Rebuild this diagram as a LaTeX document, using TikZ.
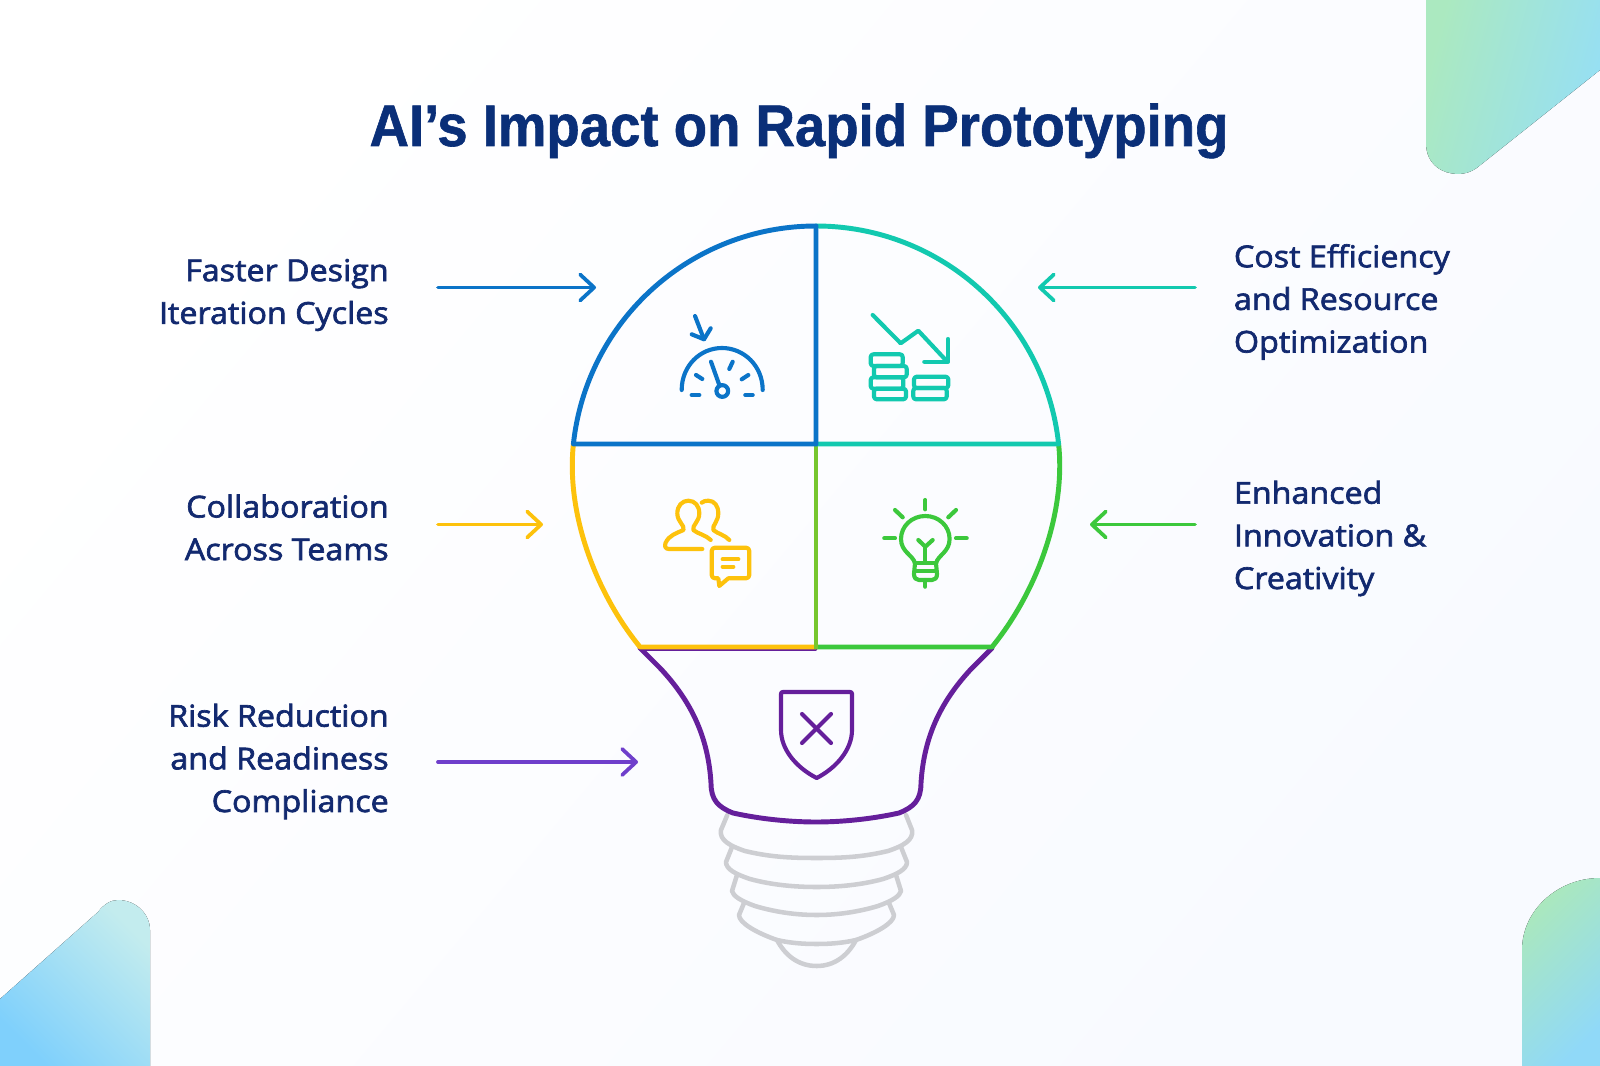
\documentclass[tikz,border=0pt]{standalone}
\usepackage{fontspec}
\usetikzlibrary{arrows.meta}
\newfontfamily\titlefont[FakeStretch=0.93,FakeBold=1]{Liberation Sans}
\newfontfamily\labfont[FakeStretch=1.07,FakeBold=2.2]{Open Sans}
\definecolor{navy}{HTML}{0A2F78}
\definecolor{labnavy}{HTML}{12296F}
\definecolor{cblue}{HTML}{0B74C8}
\definecolor{cteal}{HTML}{12C9AF}
\definecolor{cyellow}{HTML}{FDC20C}
\definecolor{cgreen}{HTML}{3CC83C}
\definecolor{cpurple}{HTML}{651F9B}
\definecolor{carrowp}{HTML}{6F3FCB}
\definecolor{cgray}{HTML}{CDCED2}
\definecolor{bgtint}{HTML}{F8FAFF}
\definecolor{ctra}{HTML}{ABE9C0}
\definecolor{ctrb}{HTML}{96DFF5}
\definecolor{cbla}{HTML}{7FD0FC}
\definecolor{cblb}{HTML}{C3ECEE}
\definecolor{cbra}{HTML}{ABE8BC}
\definecolor{cbrb}{HTML}{90D9F8}
\tikzset{
  bulbline/.style={line width=3.7pt,line cap=round,line join=round},
  iconline/.style={line width=3.1pt,line cap=round,line join=round},
  threadline/.style={line width=3.4pt,line cap=round,line join=round,draw=cgray},
  pointer/.style={line width=2.8pt,line cap=round,-{Straight Barb[length=10.5pt,width=19.5pt,line width=2.8pt,round]}},
  leftlab/.style={font=\labfont\fontsize{22.6}{32}\selectfont,text=labnavy,align=right,anchor=east,inner sep=0pt},
  rightlab/.style={font=\labfont\fontsize{22.6}{32}\selectfont,text=labnavy,align=left,anchor=west,inner sep=0pt},
}
\begin{document}
\begin{tikzpicture}[x=0.75pt,y=-0.75pt]
\useasboundingbox (0,0) rectangle (1600,1066);
\shade[left color=white,right color=bgtint,shading angle=50] (0,0) rectangle (1600,1066);
% corner shapes
\fill[left color=ctra,right color=ctrb,shading angle=75]
  (1426,0) -- (1426,143) .. controls (1426,165) and (1443,174) .. (1458,174)
  .. controls (1465,174) and (1471,172) .. (1476.7,168) -- (1600,70) -- (1600,0) -- cycle;
\fill[left color=cbla,right color=cblb,shading angle=135]
  (0,1066) -- (0,999) -- (98,912) .. controls (104,904) and (111,900) .. (118,900)
  .. controls (136,900) and (150,914) .. (150,930) -- (150,1066) -- cycle;
\fill[left color=cbra,right color=cbrb,shading angle=45]
  (1600,1066) -- (1522,1066) -- (1522,950) .. controls (1522,910) and (1558,878) .. (1600,878) -- cycle;
% title
\node[inner sep=0pt,anchor=base,text=navy,font=\titlefont\bfseries\fontsize{44}{50}\selectfont] (title) at (799,146) {AI’s Impact on Rapid Prototyping};
% screw base
\draw[threadline] (727.3,815) -- (721,830) .. controls (719,840) and (730,846) .. (745,851) .. controls (770,857) and (790,858) .. (816.7,858) .. controls (843,858) and (863,857) .. (888,851) .. controls (903,846) and (914,840) .. (912,830) -- (906,815);
\draw[threadline] (732,847) -- (726,862) .. controls (726,869) and (735,874) .. (750,879) .. controls (772,885) and (795,887) .. (816.7,887) .. controls (838,887) and (861,885) .. (883,879) .. controls (898,874) and (907,869) .. (907,862) -- (901,847);
\draw[threadline] (737,875) -- (732,891) .. controls (733,896) and (741,901) .. (755,906) .. controls (775,912) and (796,915) .. (816.7,915) .. controls (837,915) and (858,912) .. (878,906) .. controls (892,901) and (900,896) .. (901,891) -- (896,875);
\draw[threadline] (744,903) -- (739,915) .. controls (739,923) and (757,933) .. (777,940) .. controls (790,943) and (803,944) .. (816.7,944) .. controls (830,944) and (843,943) .. (856,940) .. controls (876,933) and (894,923) .. (894,915) -- (889,903);
\draw[threadline] (777,940) .. controls (785,955) and (798,966) .. (816.7,966) .. controls (835,966) and (848,955) .. (856,940);
% purple base
\draw[bulbline,draw=cpurple,line width=2.2pt] (640,649.5) -- (816,649.5);
\draw[bulbline,draw=cpurple] (640,648) -- (660,668) .. controls (690,700) and (708,735) .. (711,783)
  .. controls (711,800) and (718,807) .. (733,813) .. controls (760,819) and (790,822) .. (816,822)
  .. controls (842,822) and (872,819) .. (899,813) .. controls (914,807) and (921,800) .. (921,783)
  .. controls (924,735) and (942,700) .. (972,668) -- (992,648);
% lower quadrants
\draw[bulbline,draw=cyellow,line cap=butt] (573.4,444) .. controls (566,514) and (596,593) .. (640,647) -- (816,647);
\draw[bulbline,draw=cgreen,line cap=butt] (1058.6,444) .. controls (1066,514) and (1036,593) .. (992,647) -- (816,647);
\draw[bulbline,draw=cgreen!70!cyellow,line cap=butt] (816,444) -- (816,648.5);
% upper quadrants
\draw[bulbline,draw=cteal] (816,226) .. controls (940.7,226) and (1045.3,320) .. (1058.6,444) -- (816,444);
\draw[bulbline,draw=cblue] (816,226) .. controls (691.3,226) and (586.7,320) .. (573.4,444) -- (816,444) -- cycle;
% speedometer
\begin{scope}[iconline,draw=cblue]
\draw (681.7,390) .. controls (681.7,366) and (700,348) .. (722,348) .. controls (744,348) and (762.7,366) .. (762.7,390);
\draw (695,316) -- (704,339.3);
\draw (691.7,334.3) -- (704,339.3) -- (710.7,328.3);
\draw (711,361.7) -- (719.3,385);
\draw (722.3,391) circle[radius=4.4pt];
\draw (691.7,395) -- (699.3,395);
\draw (696,375) -- (702.3,379);
\draw (729.3,369) -- (732.7,361.7);
\draw (741.7,379.3) -- (748.3,375);
\draw (745.3,395) -- (752.7,395);
\end{scope}
% coins and falling chart
\begin{scope}[iconline,draw=cteal]
\draw (872.7,315) -- (900.7,343.3) -- (918.3,330.7) -- (947.3,361.7);
\draw (948,339) -- (948,361.7) -- (924.3,361.7);
\begin{scope}[rounded corners=2pt]
\draw (870.7,354.3) rectangle (902.7,366);
\draw (874,366) rectangle (906.7,377.3);
\draw (870.7,377.3) rectangle (903.3,388.7);
\draw (874,388.7) rectangle (906,399.3);
\draw (914,376.7) rectangle (948.3,388);
\draw (913.3,388) rectangle (946.7,399.3);
\end{scope}
\end{scope}
% people and chat
\begin{scope}[iconline,draw=cyellow]
\draw (702.3,549) -- (669,549) .. controls (665,549) and (664.5,546) .. (665.5,543) .. controls (669,535) and (677,533) .. (683.5,530)
  .. controls (685,525) and (677.3,522) .. (677.3,513.3) .. controls (677.3,506) and (682,500.7) .. (688.3,500.7)
  .. controls (695,500.7) and (699.3,506) .. (699.3,513.3) .. controls (699.3,522) and (692,525) .. (693.3,530) .. controls (698,534) and (706,535) .. (710.7,540);
\draw (701.7,502.7) .. controls (703,501.3) and (705.5,500.7) .. (708.3,500.7) .. controls (714.5,500.7) and (718.3,506) .. (718.3,513.3)
  .. controls (718.3,522) and (712,525) .. (713.3,530) .. controls (718,534) and (725,535) .. (729.3,540);
\draw (728.3,578.3) -- (719.3,586) -- (718.3,578.3) -- (715,578.3) .. controls (713,578.3) and (711.7,577) .. (711.7,575) -- (711.7,551) .. controls (711.7,549) and (713,547.7) .. (715,547.7) -- (746,547.7) .. controls (748,547.7) and (749.3,549) .. (749.3,551) -- (749.3,575) .. controls (749.3,577) and (748,578.3) .. (746,578.3) -- cycle;
\draw (722.7,559.3) -- (738.3,559.3);
\draw (722.7,566.7) -- (733.3,566.7);
\end{scope}
% idea bulb
\begin{scope}[iconline,draw=cgreen]
\draw (925.3,500) -- (925.3,509.3);
\draw (895,510) -- (902.7,517.3);
\draw (956,510) -- (948.3,517.3);
\draw (884.3,538.3) -- (895,538.3);
\draw (956,538.3) -- (966.7,538.3);
\draw (915,563.3) .. controls (913,555) and (901,552) .. (901,539) .. controls (901,526) and (912,516) .. (925.3,516) .. controls (938.6,516) and (949.6,526) .. (949.6,539) .. controls (949.6,552) and (938,555) .. (936,563.3);
\draw (915,563.3) -- (936,563.3);
\draw (915,563.3) -- (914,574) .. controls (914,578) and (916,580) .. (919,580) -- (932,580) .. controls (935,580) and (937,578) .. (937,574) -- (936,563.3);
\draw (915,571) -- (936,571);
\draw (925.3,580) -- (925.3,586.7);
\draw (925.3,561.7) -- (925.3,546.7);
\draw (918.3,540) -- (925.3,546.7) -- (932.7,540);
\end{scope}
% shield
\begin{scope}[iconline,draw=cpurple]
\draw (783,692) -- (850,692) .. controls (851.5,692) and (852,692.5) .. (852,694) -- (852,730) .. controls (852,750) and (836,768) .. (816.7,778) .. controls (797,768) and (781,750) .. (781,730) -- (781,694) .. controls (781,692.5) and (781.5,692) .. (783,692) -- cycle;
\draw (802,714) -- (831,743);
\draw (831,714) -- (802,743);
\end{scope}
% labels
\node[leftlab] (lab1) at (389,295) {Faster Design\\Iteration Cycles};
\node[leftlab] (lab2) at (389,527.5) {Collaboration\\Across Teams};
\node[leftlab] (lab3) at (389,761.5) {Risk Reduction\\and Readiness\\Compliance};
\node[rightlab] (lab4) at (1233.7,302) {Cost Efficiency\\and Resource\\Optimization};
\node[rightlab] (lab5) at (1233.7,538.5) {Enhanced\\Innovation \&\\Creativity};
% pointer ends
\coordinate (p1a) at (438,287.5); \coordinate (p1b) at (596,287.5);
\coordinate (p2a) at (438,524.5); \coordinate (p2b) at (543,524.5);
\coordinate (p3a) at (438,762);   \coordinate (p3b) at (638,762);
\coordinate (p4a) at (1195,287.5);\coordinate (p4b) at (1038,287.5);
\coordinate (p5a) at (1195,524.5);\coordinate (p5b) at (1090,524.5);
\draw[pointer,draw=cblue] (p1a) -- (p1b);
\draw[pointer,draw=cyellow] (p2a) -- (p2b);
\draw[pointer,draw=carrowp] (p3a) -- (p3b);
\draw[pointer,draw=cteal] (p4a) -- (p4b);
\draw[pointer,draw=cgreen] (p5a) -- (p5b);
\end{tikzpicture}
\end{document}
